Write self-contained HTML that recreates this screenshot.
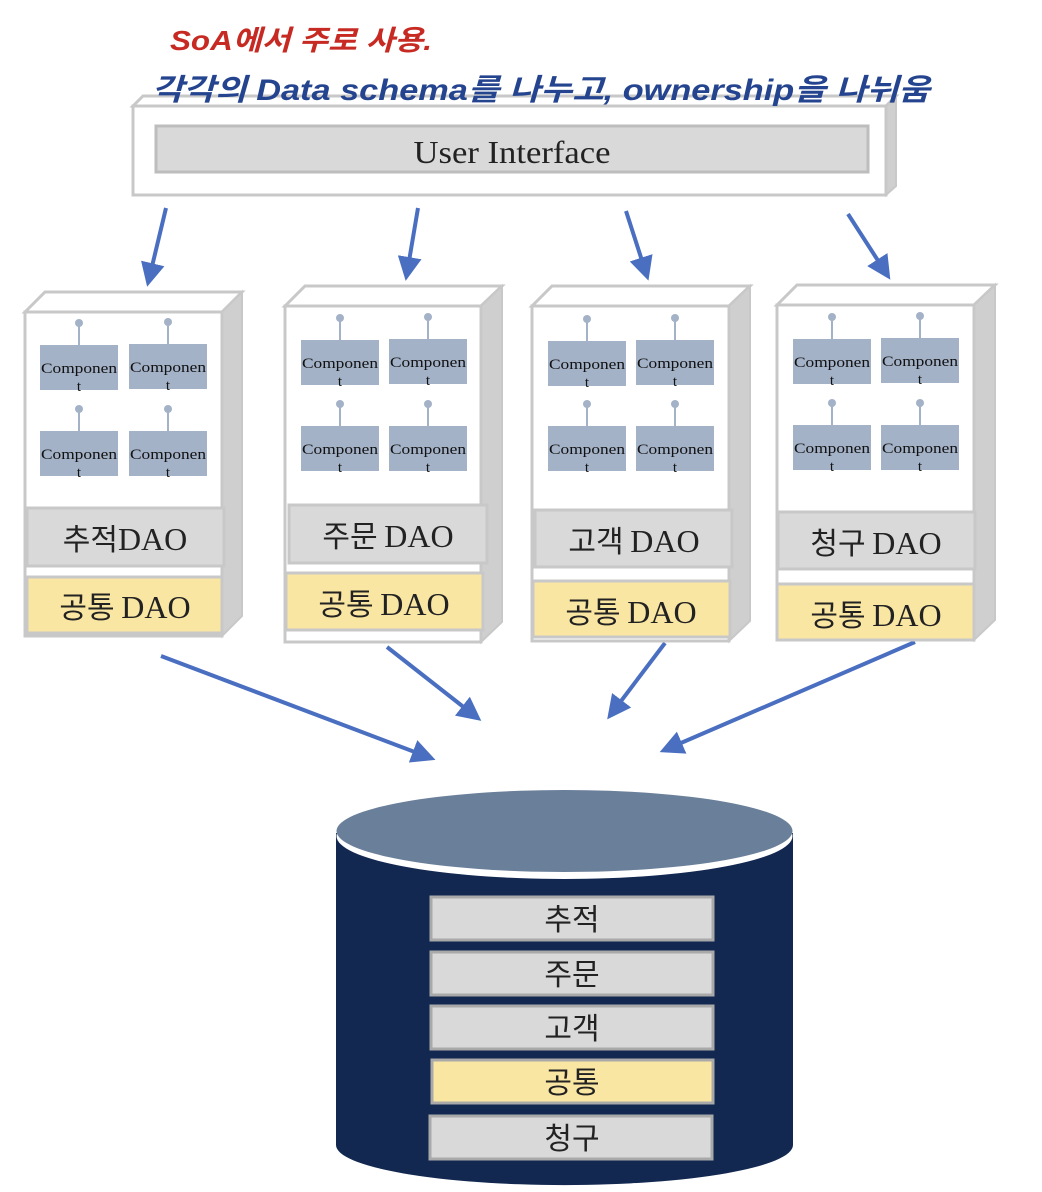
<!DOCTYPE html>
<html><head><meta charset="utf-8"><style>
html,body{margin:0;padding:0;background:#fff}
svg{display:block}
.c{font-family:"Liberation Serif","DejaVu Serif",serif;font-size:15px;fill:#111;text-anchor:middle}
.k{font-family:"Noto Sans CJK KR",sans-serif;font-size:30px;fill:#222;text-anchor:middle}
.s{font-family:"Liberation Serif",serif;font-size:32px}
</style></head><body>
<svg width="1042" height="1192" viewBox="0 0 1042 1192" xmlns="http://www.w3.org/2000/svg">
<defs>
<marker id="ah" markerWidth="6" markerHeight="6" refX="4" refY="3" orient="auto" markerUnits="strokeWidth"><path d="M0,0 L6,3 L0,6 z" fill="#4a6fc1"/></marker>
<g id="cp">
<line x1="39" y1="-22" x2="39" y2="0" stroke="#a4b2c8" stroke-width="2"/>
<circle cx="39" cy="-22" r="4" fill="#a4b2c8"/>
<rect x="0" y="0" width="78" height="45" fill="#a4b2c8"/>
<text class="c" x="39" y="28" textLength="76" lengthAdjust="spacingAndGlyphs">Componen</text>
<text class="c" x="39" y="46">t</text>
</g>
</defs>
<!-- UI box -->
<polygon points="133,106 143,96 896,96 886,106" fill="#fff" stroke="#c8c8c8" stroke-width="3"/>
<polygon points="886,106 896,96 896,186 886,195" fill="#cfcfcf" stroke="#c8c8c8" stroke-width="2"/>
<rect x="133" y="106" width="753" height="89" fill="#fff" stroke="#c8c8c8" stroke-width="3"/>
<rect x="156" y="126" width="712" height="46" fill="#d9d9d9" stroke="#bdbdbd" stroke-width="3"/>
<text x="512" y="163" font-family="Liberation Serif,serif" font-size="32" fill="#222" text-anchor="middle" textLength="197" lengthAdjust="spacingAndGlyphs">User Interface</text>
<!-- handwritten -->
<text x="170" y="50" font-family="Liberation Sans,'Noto Sans CJK KR',sans-serif" font-style="italic" font-weight="bold" font-size="28" fill="#c62a22" textLength="262" lengthAdjust="spacingAndGlyphs">SoA에서 주로 사용.</text>
<text x="152" y="100" font-family="Liberation Sans,'Noto Sans CJK KR',sans-serif" font-style="italic" font-weight="bold" font-size="30" fill="#24448f" textLength="778" lengthAdjust="spacingAndGlyphs">각각의 Data schema를  나누고, ownership을  나뉘움</text>
<!-- arrows -->
<g stroke="#4a6fc1" stroke-width="4" fill="none" marker-end="url(#ah)">
<line x1="166" y1="208" x2="149" y2="279"/>
<line x1="418" y1="208" x2="407" y2="273"/>
<line x1="626" y1="211" x2="646" y2="273"/>
<line x1="848" y1="214" x2="886" y2="273"/>
<line x1="161" y1="656" x2="428" y2="757"/>
<line x1="387" y1="647" x2="475" y2="716"/>
<line x1="665" y1="643" x2="612" y2="713"/>
<line x1="915" y1="642" x2="667" y2="749"/>
</g>
<!-- Box1 -->
<g>
<polygon points="25,312 45,292 242,292 222,312" fill="#fff" stroke="#c8c8c8" stroke-width="3"/>
<polygon points="222,312 242,292 242,616 222,636" fill="#cfcfcf" stroke="#c8c8c8" stroke-width="2"/>
<rect x="25" y="312" width="197" height="324" fill="#fff" stroke="#c8c8c8" stroke-width="3"/>
<use href="#cp" x="40" y="345"/><use href="#cp" x="129" y="344"/>
<use href="#cp" x="40" y="431"/><use href="#cp" x="129" y="431"/>
<rect x="27" y="508" width="197" height="58" fill="#d9d9d9" stroke="#c8c8c8" stroke-width="3"/>
<text class="k" x="125" y="550">추적<tspan class="s">DAO</tspan></text>
<rect x="27" y="577" width="195" height="56" fill="#fae6a3" stroke="#c8c8c8" stroke-width="3"/>
<text class="k" x="125" y="618">공통 <tspan class="s">DAO</tspan></text>
</g>
<!-- Box2 -->
<g>
<polygon points="285,306 305,286 502,286 481,306" fill="#fff" stroke="#c8c8c8" stroke-width="3"/>
<polygon points="481,306 502,286 502,622 481,642" fill="#cfcfcf" stroke="#c8c8c8" stroke-width="2"/>
<rect x="285" y="306" width="196" height="336" fill="#fff" stroke="#c8c8c8" stroke-width="3"/>
<use href="#cp" x="301" y="340"/><use href="#cp" x="389" y="339"/>
<use href="#cp" x="301" y="426"/><use href="#cp" x="389" y="426"/>
<rect x="289" y="505" width="198" height="58" fill="#d9d9d9" stroke="#c8c8c8" stroke-width="3"/>
<text class="k" x="388" y="547">주문 <tspan class="s">DAO</tspan></text>
<rect x="286" y="573" width="197" height="57" fill="#fae6a3" stroke="#c8c8c8" stroke-width="3"/>
<text class="k" x="384" y="615">공통 <tspan class="s">DAO</tspan></text>
</g>
<!-- Box3 -->
<g>
<polygon points="532,306 552,286 750,286 729,306" fill="#fff" stroke="#c8c8c8" stroke-width="3"/>
<polygon points="729,306 750,286 750,621 729,641" fill="#cfcfcf" stroke="#c8c8c8" stroke-width="2"/>
<rect x="532" y="306" width="197" height="335" fill="#fff" stroke="#c8c8c8" stroke-width="3"/>
<use href="#cp" x="548" y="341"/><use href="#cp" x="636" y="340"/>
<use href="#cp" x="548" y="426"/><use href="#cp" x="636" y="426"/>
<rect x="535" y="510" width="197" height="57" fill="#d9d9d9" stroke="#c8c8c8" stroke-width="3"/>
<text class="k" x="634" y="552">고객 <tspan class="s">DAO</tspan></text>
<rect x="533" y="581" width="197" height="56" fill="#fae6a3" stroke="#c8c8c8" stroke-width="3"/>
<text class="k" x="631" y="623">공통 <tspan class="s">DAO</tspan></text>
</g>
<!-- Box4 -->
<g>
<polygon points="777,305 797,285 995,285 974,305" fill="#fff" stroke="#c8c8c8" stroke-width="3"/>
<polygon points="974,305 995,285 995,620 974,640" fill="#cfcfcf" stroke="#c8c8c8" stroke-width="2"/>
<rect x="777" y="305" width="197" height="335" fill="#fff" stroke="#c8c8c8" stroke-width="3"/>
<use href="#cp" x="793" y="339"/><use href="#cp" x="881" y="338"/>
<use href="#cp" x="793" y="425"/><use href="#cp" x="881" y="425"/>
<rect x="778" y="512" width="197" height="57" fill="#d9d9d9" stroke="#c8c8c8" stroke-width="3"/>
<text class="k" x="876" y="554">청구 <tspan class="s">DAO</tspan></text>
<rect x="777" y="584" width="197" height="56" fill="#fae6a3" stroke="#c8c8c8" stroke-width="3"/>
<text class="k" x="876" y="626">공통 <tspan class="s">DAO</tspan></text>
</g>
<!-- Cylinder -->
<path d="M336,833 L336,1145 A228,40 0 0 0 793,1145 L793,833 Z" fill="#132851"/>
<ellipse cx="564.5" cy="836" rx="228" ry="43" fill="#fff"/>
<ellipse cx="564.5" cy="831" rx="228" ry="41" fill="#6a7f9a"/>
<g stroke="#a9a9a9" stroke-width="3">
<rect x="431" y="897" width="282" height="43" fill="#d9d9d9"/>
<rect x="431" y="952" width="282" height="43" fill="#d9d9d9"/>
<rect x="431" y="1006" width="282" height="43" fill="#d9d9d9"/>
<rect x="432" y="1060" width="281" height="43" fill="#fae6a3"/>
<rect x="430" y="1116" width="282" height="43" fill="#d9d9d9"/>
</g>
<text class="k" x="572" y="930">추적</text>
<text class="k" x="572" y="985">주문</text>
<text class="k" x="572" y="1039">고객</text>
<text class="k" x="572" y="1093">공통</text>
<text class="k" x="572" y="1149">청구</text>
</svg>
</body></html>
